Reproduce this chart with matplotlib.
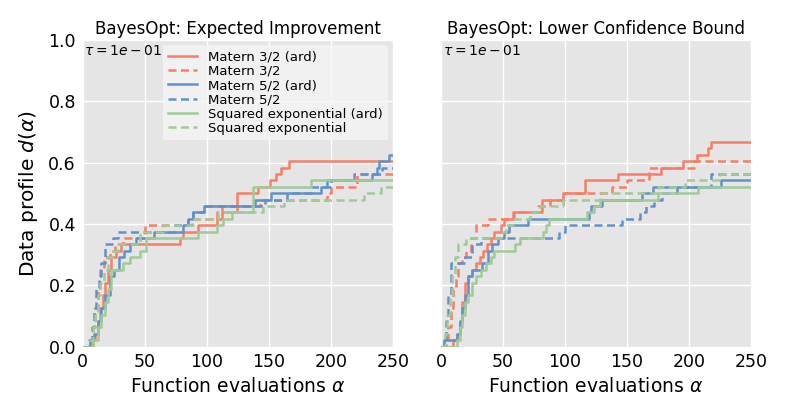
import numpy as np
import matplotlib
matplotlib.use('Agg')
import matplotlib.pyplot as plt

n_problems = 48
x_max = 250

labels = ["Matern 3/2 (ard)", "Matern 3/2", "Matern 5/2 (ard)", "Matern 5/2",
          "Squared exponential (ard)", "Squared exponential"]

# Expected Improvement: evaluation counts where the profile steps, and problems solved
ei_m32_ard_x = [0, 8, 10, 12, 14, 16, 18, 20, 23, 27, 31, 78, 81, 93, 108, 112, 124, 141, 151, 156, 160, 166]
ei_m32_ard_n = [0, 1, 2, 4, 6, 8, 10, 12, 14, 15, 16, 17, 18, 19, 20, 21, 24, 25, 26, 27, 28, 29]
ei_m32_x = [0, 6, 8, 10, 12, 14, 17, 22, 26, 32, 50, 88, 108, 112, 143, 197, 200, 221]
ei_m32_n = [0, 1, 3, 6, 9, 12, 14, 15, 16, 17, 19, 20, 21, 22, 23, 24, 25, 27]
ei_m52_ard_x = [0, 6, 9, 12, 15, 18, 22, 25, 29, 33, 38, 43, 57, 81, 85, 89, 98, 139, 152, 192, 197, 233, 237, 239, 247]
ei_m52_ard_n = [0, 1, 2, 4, 6, 8, 11, 12, 14, 15, 16, 17, 18, 19, 20, 21, 22, 23, 24, 25, 26, 27, 28, 29, 30]
ei_m52_x = [0, 5, 7, 9, 11, 13, 15, 18, 24, 28, 74, 85, 89, 98, 147, 165, 184, 200, 219, 241]
ei_m52_n = [0, 1, 3, 6, 9, 11, 13, 16, 17, 18, 19, 20, 21, 22, 23, 24, 25, 26, 27, 28]
ei_se_ard_x = [0, 8, 12, 15, 18, 20, 23, 32, 38, 46, 51, 93, 108, 113, 120, 137, 184]
ei_se_ard_n = [0, 1, 3, 5, 7, 9, 12, 13, 14, 15, 17, 18, 19, 20, 21, 25, 26]
ei_se_x = [0, 6, 8, 10, 12, 14, 17, 20, 24, 28, 46, 65, 90, 109, 145, 162, 227, 240]
ei_se_n = [0, 1, 3, 5, 8, 10, 12, 14, 15, 16, 18, 19, 20, 21, 22, 23, 24, 25]

# Lower Confidence Bound
lcb_m32_ard_x = [0, 10, 13, 15, 17, 19, 22, 25, 28, 31, 34, 37, 40, 43, 48, 51, 58, 81, 98, 116, 143, 177, 195, 206, 215, 218]
lcb_m32_ard_n = [0, 1, 2, 4, 7, 10, 11, 12, 13, 14, 15, 16, 17, 18, 19, 20, 21, 23, 24, 26, 27, 28, 29, 30, 31, 32]
lcb_m32_x = [0, 4, 6, 8, 10, 12, 14, 17, 20, 24, 28, 38, 59, 78, 88, 99, 138, 150, 168, 204]
lcb_m32_n = [0, 1, 3, 6, 9, 11, 13, 14, 15, 17, 19, 20, 21, 22, 23, 24, 25, 26, 28, 29]
lcb_m52_ard_x = [0, 2, 13, 15, 17, 19, 22, 25, 33, 38, 41, 46, 51, 55, 70, 119, 121, 130, 162, 171, 226]
lcb_m52_ard_n = [0, 1, 2, 4, 6, 8, 11, 12, 13, 15, 16, 17, 18, 19, 20, 21, 22, 23, 24, 25, 26]
lcb_m52_x = [0, 2, 4, 6, 8, 19, 25, 32, 95, 100, 146, 160, 165, 172, 178, 190, 218]
lcb_m52_n = [0, 1, 4, 8, 13, 14, 16, 17, 18, 19, 20, 21, 22, 23, 24, 25, 27]
lcb_se_ard_x = [0, 13, 15, 17, 19, 22, 25, 28, 32, 36, 40, 43, 60, 64, 82, 85, 87, 118, 123, 128, 175, 207]
lcb_se_ard_n = [0, 1, 3, 5, 7, 8, 10, 11, 12, 13, 14, 15, 16, 17, 18, 19, 20, 21, 22, 23, 24, 25]
lcb_se_x = [0, 3, 5, 7, 9, 11, 14, 20, 48, 52, 58, 72, 80, 98, 128, 175, 197, 225]
lcb_se_n = [0, 2, 5, 8, 11, 14, 16, 17, 18, 19, 20, 21, 22, 23, 24, 25, 26, 27]

ei_series = [(ei_m32_ard_x, ei_m32_ard_n), (ei_m32_x, ei_m32_n), (ei_m52_ard_x, ei_m52_ard_n),
             (ei_m52_x, ei_m52_n), (ei_se_ard_x, ei_se_ard_n), (ei_se_x, ei_se_n)]
lcb_series = [(lcb_m32_ard_x, lcb_m32_ard_n), (lcb_m32_x, lcb_m32_n), (lcb_m52_ard_x, lcb_m52_ard_n),
              (lcb_m52_x, lcb_m52_n), (lcb_se_ard_x, lcb_se_ard_n), (lcb_se_x, lcb_se_n)]

colors = ['#FA7D67', '#FA7D67', '#6391C7', '#6391C7', '#A0CA98', '#A0CA98']
dashed = (0, (3.2, 1.8))
styles = ['-', dashed, '-', dashed, '-', dashed]


def draw_panel(ax, series, title):
    ax.set_facecolor('#E5E5E5')
    ax.grid(True, color='white', linewidth=1.0)
    ax.set_axisbelow(True)
    for s in ax.spines.values():
        s.set_visible(False)
    for (xs, ns), c, ls, lab in zip(series, colors, styles, labels):
        xs = np.append(xs, x_max)
        ys = np.append(ns, ns[-1]) / n_problems
        ax.step(xs, ys, where='post', color=c, linestyle=ls, linewidth=1.8, label=lab)
    ax.set_xlim(0, x_max)
    ax.set_ylim(0, 1)
    ax.set_xticks([0, 50, 100, 150, 200, 250])
    ax.set_yticks([0, 0.2, 0.4, 0.6, 0.8, 1.0])
    ax.tick_params(length=0, labelsize=12.5, pad=5)
    ax.set_title(title, fontsize=12, pad=4)
    ax.set_xlabel(r'Function evaluations $\alpha$', fontsize=13.5)
    ax.text(0.005, 0.985, r'$\tau = 1e-01$', transform=ax.transAxes,
            ha='left', va='top', fontsize=10)


fig = plt.figure(figsize=(7.89, 4.15), dpi=100)
ax1 = fig.add_axes([0.105, 0.165, 0.393, 0.739])
ax2 = fig.add_axes([0.559, 0.165, 0.393, 0.739])

draw_panel(ax1, ei_series, 'BayesOpt: Expected Improvement')
draw_panel(ax2, lcb_series, 'BayesOpt: Lower Confidence Bound')

ax1.set_ylabel(r'Data profile $d(\alpha)$', fontsize=14.5, labelpad=6)
ax1.set_yticklabels(['0.0', '0.2', '0.4', '0.6', '0.8', '1.0'])
ax2.set_yticklabels([])

leg = ax1.legend(loc='upper right', fontsize=9.5, frameon=True, framealpha=0.8,
                 facecolor='#F5F5F5', edgecolor='none', borderaxespad=0.4,
                 handlelength=2.2, labelspacing=0.1)

fig.savefig('out.png', dpi=100)
